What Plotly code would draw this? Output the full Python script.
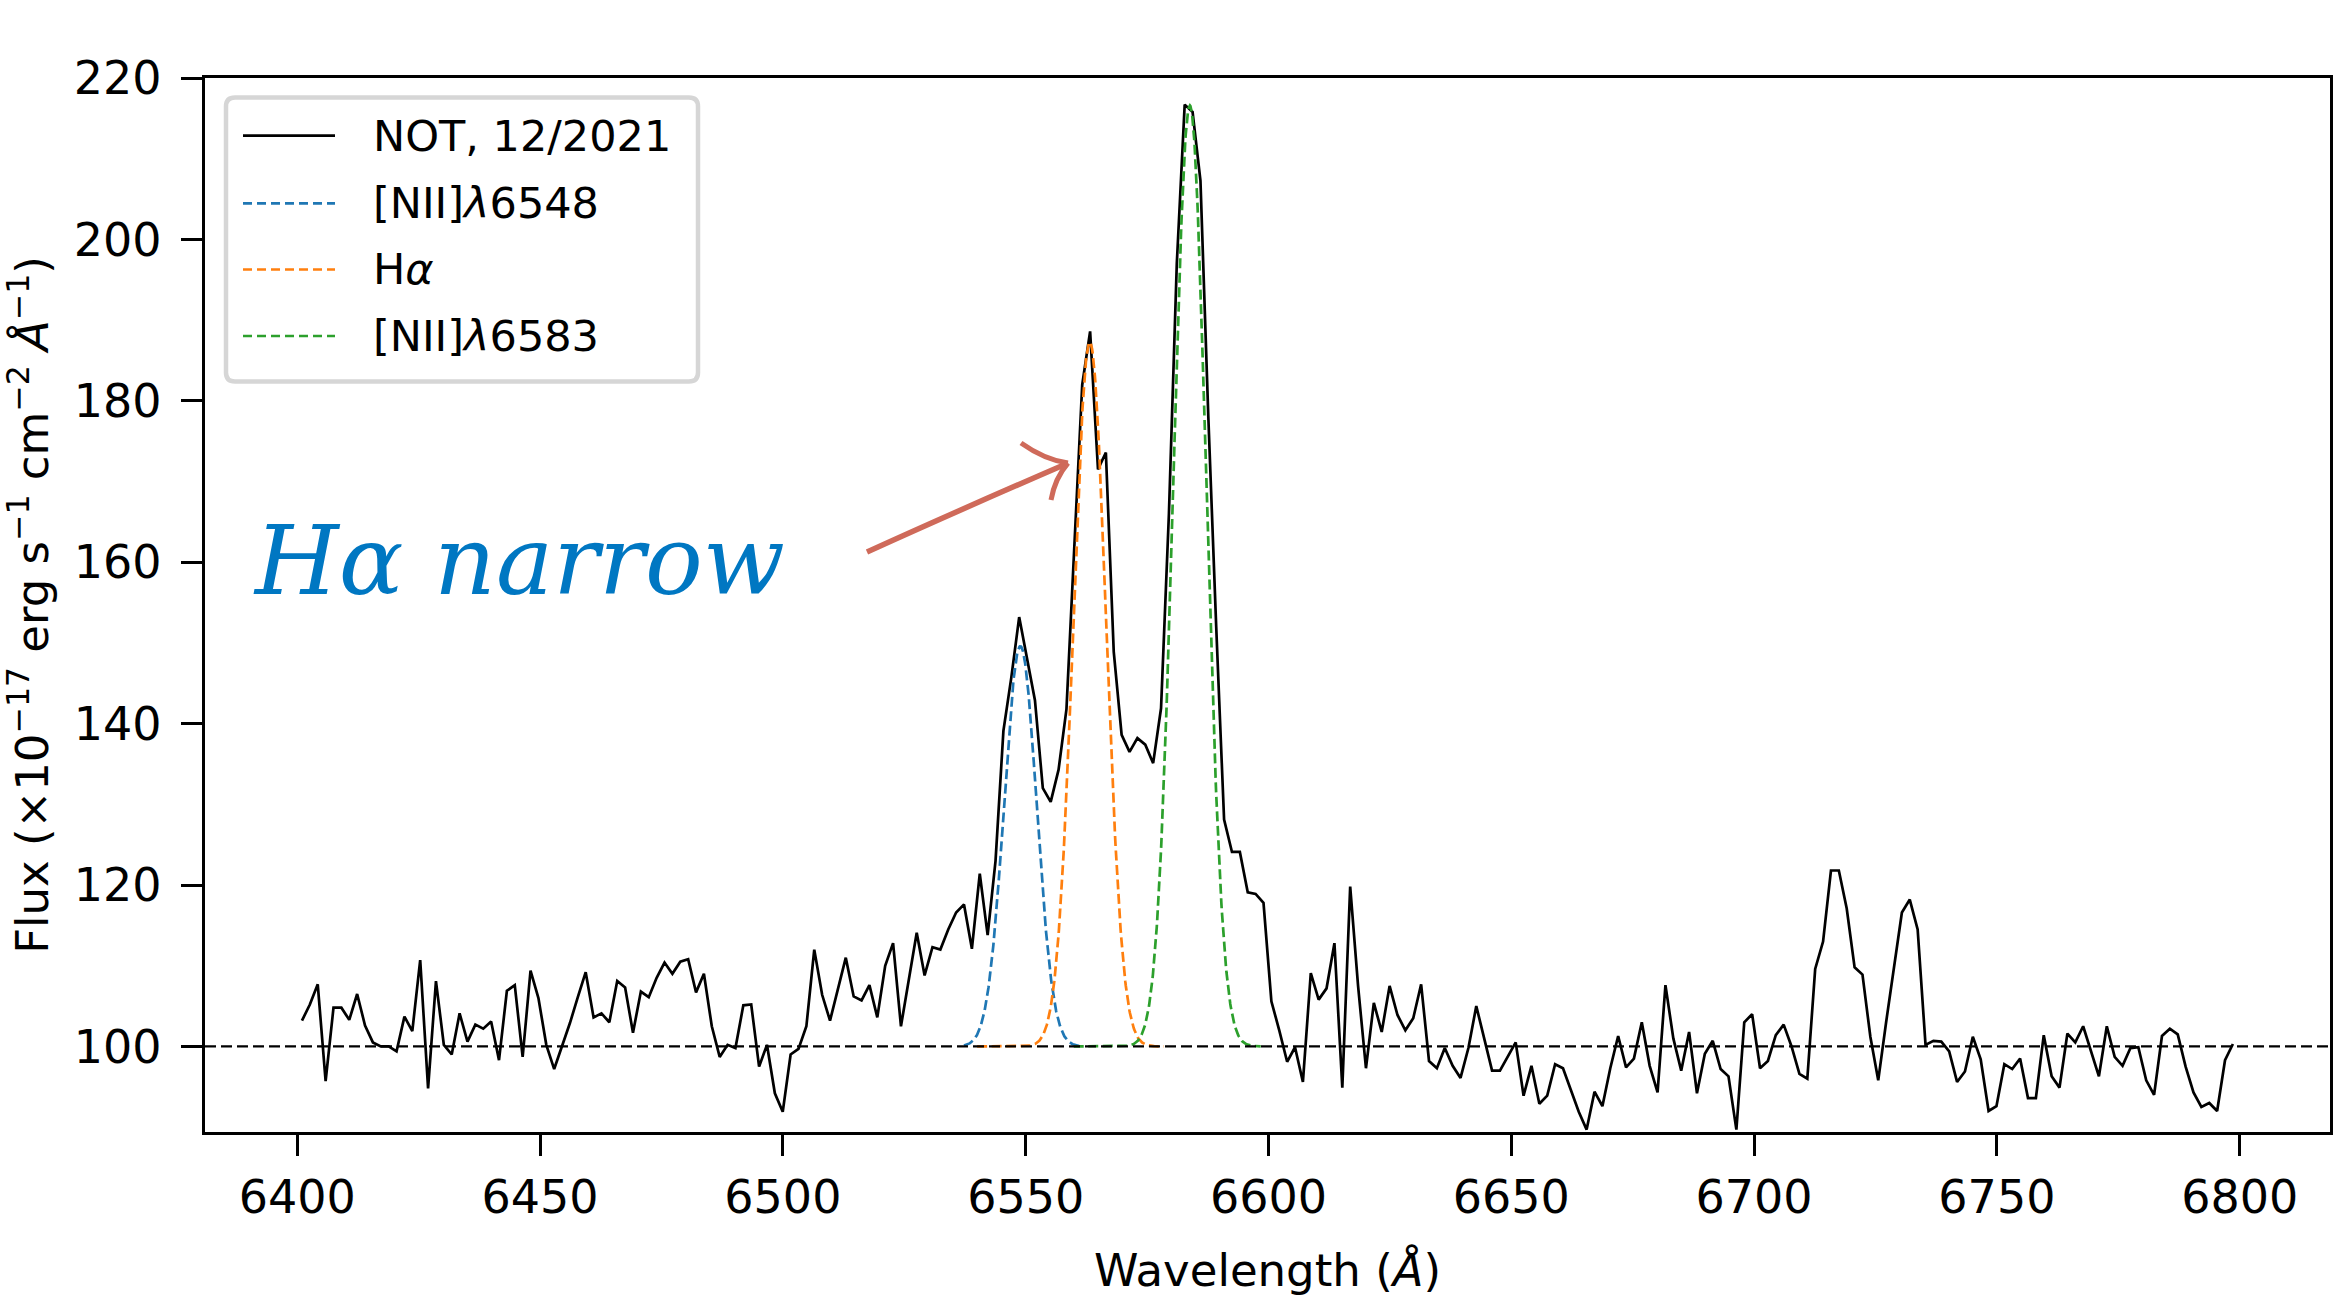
import numpy as np
import plotly.graph_objects as go

# ---------------- data ----------------
wave_start = 6400.97      # first sample (Angstrom)
wave_step = 1.623         # spectral sampling (Angstrom / pixel)

flux = [
    103.2, 105.2, 107.7, 95.7, 104.8, 104.8, 103.3, 106.5, 102.6, 100.5,
    100.0, 100.0, 99.4, 103.7, 101.9, 110.7, 94.8, 108.1, 100.2, 99.0,
    104.1, 100.6, 102.7, 102.2, 103.1, 98.3, 106.9, 107.6, 98.7, 109.4,
    106.0, 100.2, 97.2, 100.0, 102.9, 106.1, 109.2, 103.6, 104.1, 103.0,
    108.1, 107.3, 101.7, 106.8, 106.1, 108.5, 110.4, 109.0, 110.5, 110.8,
    106.7, 109.0, 102.5, 98.7, 100.2, 99.8, 105.1, 105.2, 97.5, 100.2,
    94.2, 91.9, 99.0, 99.7, 102.5, 112.0, 106.4, 103.2, 107.1, 111.0,
    106.2, 105.7, 107.6, 103.6, 110.0, 112.8, 102.5, 108.3, 114.1, 108.8,
    112.3, 112.0, 114.5, 116.6, 117.6, 112.1, 121.4, 113.8, 123.0, 139.1,
    145.7, 153.2, 147.8, 142.9, 132.0, 130.3, 134.3, 141.8, 162.0, 182.0,
    188.6, 171.5, 173.6, 148.9, 138.6, 136.5, 138.2, 137.4, 135.1, 141.9,
    166.0, 197.0, 216.7, 215.8, 207.3, 178.0, 152.0, 128.1, 124.1, 124.1,
    119.1, 118.9, 117.8, 105.6, 102.0, 98.1, 99.9, 95.6, 109.1, 105.8,
    107.2, 112.8, 94.9, 119.8, 107.5, 97.3, 105.4, 101.8, 107.5, 103.9,
    102.0, 103.5, 107.7, 98.2, 97.3, 99.8, 97.6, 96.1, 99.8, 105.0,
    101.0, 97.0, 97.0, 98.7, 100.5, 93.9, 97.6, 92.9, 93.9, 97.8,
    97.3, 94.6, 91.9, 89.7, 94.4, 92.6, 97.3, 101.3, 97.4, 98.5,
    103.0, 97.6, 94.3, 107.6, 101.0, 97.0, 101.8, 94.2, 99.1, 100.7,
    97.2, 96.3, 89.7, 103.0, 104.0, 97.3, 98.2, 101.4, 102.7, 100.0,
    96.6, 96.0, 109.6, 113.0, 121.8, 121.8, 117.1, 109.8, 108.9, 101.2,
    95.8, 103.0, 109.7, 116.6, 118.2, 114.5, 100.2, 100.7, 100.6, 99.4,
    95.6, 96.9, 101.2, 98.4, 92.0, 92.6, 97.8, 97.2, 98.5, 93.6,
    93.6, 101.4, 96.3, 94.9, 101.6, 100.5, 102.5, 99.4, 96.3, 102.5,
    98.7, 97.6, 99.8, 99.9, 95.8, 94.0, 101.3, 102.2, 101.5, 97.5,
    94.3, 92.5, 93.0, 92.0, 98.3, 100.3,
]
wavelength = [wave_start + i * wave_step for i in range(len(flux))]

continuum = 100.0
line_labels = ["[NII]<i>λ</i>6548", "H<i>α</i>", "[NII]<i>λ</i>6583"]
line_centers = [6548.9, 6563.2, 6583.8]
line_peaks = [149.6, 187.3, 216.6]
line_sigmas = [3.35, 3.35, 3.35]
line_lo = [6537.3, 6540.0, 6559.9]
line_hi = [6561.3, 6578.4, 6598.4]
line_colors = ["#1f77b4", "#ff7f0e", "#2ca02c"]

data_label = "NOT, 12/2021"
x_ticks = [6400, 6450, 6500, 6550, 6600, 6650, 6700, 6750, 6800]
y_ticks = [100, 120, 140, 160, 180, 200, 220]

# ---------------- layout geometry ----------------
W, H = 2350, 1303
L, R, T, B = 205, 2330, 78, 1132
FONT = "DejaVu Sans"


def px(x, y):
    return (x - L) / (R - L), (B - y) / (B - T)


def pstr(x, y):
    a, b = px(x, y)
    return f"{a:.5f},{b:.5f}"


fig = go.Figure()

fig.add_trace(go.Scatter(
    x=wavelength, y=flux, mode="lines",
    line=dict(color="black", width=2.7), showlegend=False,
))

for lab, c, pk, s, lo, hi, col in zip(line_labels, line_centers, line_peaks,
                                       line_sigmas, line_lo, line_hi, line_colors):
    xm = np.linspace(lo, hi, 400)
    ym = continuum + (pk - continuum) * np.exp(-0.5 * ((xm - c) / s) ** 2)
    fig.add_trace(go.Scatter(
        x=xm, y=ym, mode="lines",
        line=dict(color=col, width=2.7, dash="10px,4.5px"), showlegend=False,
    ))

shapes = []
# continuum level
shapes.append(dict(type="line", xref="x domain", yref="y", x0=0, x1=1,
                   y0=continuum, y1=continuum,
                   line=dict(color="black", width=2.3, dash="11px,5px")))

# custom legend box (rounded)
bx0, by0, bx1, by1, rr = 226, 97.5, 698, 381.5, 9
path = (f"M {pstr(bx0 + rr, by0)} L {pstr(bx1 - rr, by0)} Q {pstr(bx1, by0)} {pstr(bx1, by0 + rr)} "
        f"L {pstr(bx1, by1 - rr)} Q {pstr(bx1, by1)} {pstr(bx1 - rr, by1)} "
        f"L {pstr(bx0 + rr, by1)} Q {pstr(bx0, by1)} {pstr(bx0, by1 - rr)} "
        f"L {pstr(bx0, by0 + rr)} Q {pstr(bx0, by0)} {pstr(bx0 + rr, by0)} Z")
shapes.append(dict(type="path", xref="paper", yref="paper", path=path,
                   line=dict(color="#d6d6d6", width=4.5), fillcolor="white", layer="above"))

leg_rows = [135.7, 203.3, 269.5, 336.0]
leg_cols = ["black"] + line_colors
leg_text = [data_label] + line_labels
annotations = []
for i, (yy, col, txt) in enumerate(zip(leg_rows, leg_cols, leg_text)):
    xa, ya = px(243, yy)
    xb, _ = px(335, yy)
    shapes.append(dict(type="line", xref="paper", yref="paper", x0=xa, x1=xb, y0=ya, y1=ya,
                       line=dict(color=col, width=2.7, dash="solid" if i == 0 else "9px,5px"),
                       layer="above"))
    tx, ty = px(371, yy)
    annotations.append(dict(xref="paper", yref="paper", x=tx, y=ty, text=txt,
                            xanchor="left", yanchor="middle", showarrow=False,
                            font=dict(family=FONT, size=43, color="black")))

# hand-drawn style arrow
arrow_col = "rgb(207,106,90)"
shapes.append(dict(type="path", xref="paper", yref="paper",
                   path=f"M {pstr(867, 552)} Q {pstr(955, 512)} {pstr(1066, 464)}",
                   line=dict(color=arrow_col, width=5.5)))
shapes.append(dict(type="path", xref="paper", yref="paper",
                   path=f"M {pstr(1021, 443)} Q {pstr(1045, 460)} {pstr(1068, 463)}",
                   line=dict(color=arrow_col, width=5)))
shapes.append(dict(type="path", xref="paper", yref="paper",
                   path=f"M {pstr(1068, 463)} Q {pstr(1055, 478)} {pstr(1051, 500)}",
                   line=dict(color=arrow_col, width=5)))

hx, hy = px(251, 561)
annotations.append(dict(xref="paper", yref="paper", x=hx, y=hy,
                        text="<i>Hα narrow</i>", xanchor="left", yanchor="middle",
                        showarrow=False,
                        font=dict(family="DejaVu Serif", size=96, color="#0077c2")))

fig.update_layout(
    width=W, height=H,
    margin=dict(l=L, r=W - R, t=T, b=H - B, pad=0),
    paper_bgcolor="white", plot_bgcolor="white",
    font=dict(family=FONT, size=46, color="black"),
    shapes=shapes, annotations=annotations, showlegend=False,
)
fig.update_xaxes(
    range=[6381.0, 6818.6], tickmode="array", tickvals=x_ticks,
    ticktext=[str(v) for v in x_ticks],
    showline=True, linecolor="black", linewidth=3.3, mirror=True,
    ticks="outside", ticklen=21, tickwidth=3.3, tickcolor="black",
    showgrid=False, zeroline=False, ticklabelstandoff=2,
    tickfont=dict(family=FONT, size=46),
    title=dict(text="Wavelength (<i>Å</i>)", font=dict(family=FONT, size=45), standoff=32),
    automargin=False,
)
fig.update_yaxes(
    range=[89.4, 220], tickmode="array", tickvals=y_ticks,
    ticktext=[str(v) for v in y_ticks],
    showline=True, linecolor="black", linewidth=3.3, mirror=True,
    ticks="outside", ticklen=21, tickwidth=3.3, tickcolor="black",
    showgrid=False, zeroline=False, ticklabelstandoff=10,
    tickfont=dict(family=FONT, size=46),
    title=dict(text="Flux (×10<sup>−17</sup> erg s<sup>−1</sup> cm<sup>−2</sup> <i>Å</i><sup>−1</sup>)",
               font=dict(family=FONT, size=45), standoff=38),
    automargin=False,
)

fig.write_html("out.html")
